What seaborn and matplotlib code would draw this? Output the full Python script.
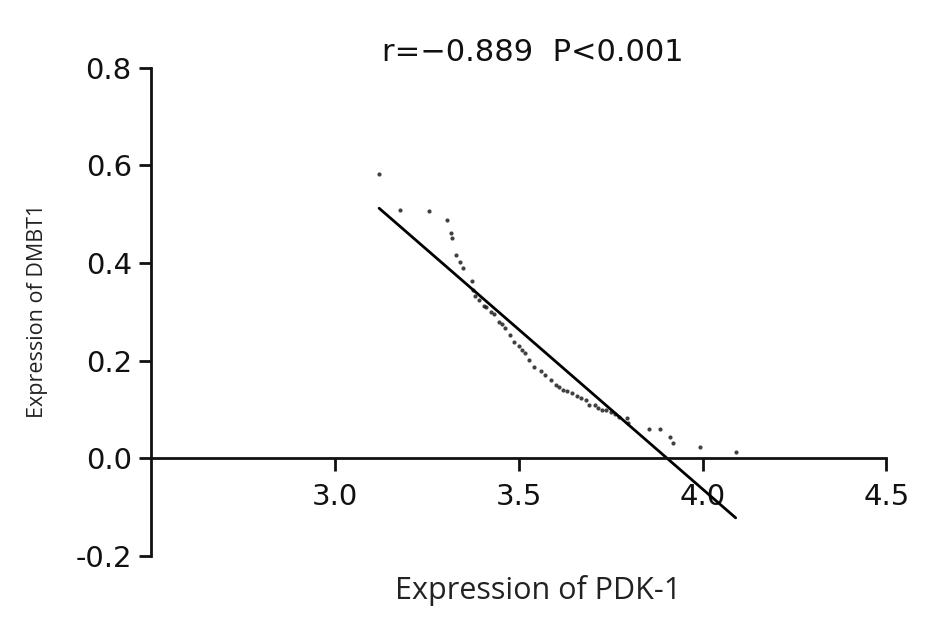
import numpy as np
import pandas as pd
import matplotlib
matplotlib.use("Agg")
import matplotlib.pyplot as plt
import seaborn as sns

sns.set_style("ticks")
plt.rcParams['font.family'] = ['DejaVu Sans']

# values
pdk1 = [3.120, 3.178, 3.257, 3.306, 3.315, 3.318, 3.328, 3.340, 3.348, 3.372,
        3.376, 3.382, 3.392, 3.404, 3.412, 3.425, 3.433, 3.445, 3.453, 3.463,
        3.477, 3.486, 3.500, 3.509, 3.518, 3.527, 3.541, 3.560, 3.571, 3.587,
        3.601, 3.610, 3.619, 3.632, 3.646, 3.657, 3.670, 3.683, 3.692, 3.706,
        3.715, 3.725, 3.738, 3.750, 3.761, 3.772, 3.793, 3.797, 3.855, 3.883,
        3.912, 3.920, 3.993, 4.090]
dmbt1 = [0.582, 0.509, 0.506, 0.488, 0.461, 0.452, 0.417, 0.402, 0.390, 0.364,
         0.344, 0.332, 0.324, 0.311, 0.310, 0.300, 0.296, 0.280, 0.275, 0.266,
         0.253, 0.239, 0.229, 0.221, 0.215, 0.201, 0.188, 0.178, 0.170, 0.160,
         0.150, 0.147, 0.140, 0.137, 0.133, 0.128, 0.123, 0.119, 0.109, 0.109,
         0.102, 0.098, 0.099, 0.094, 0.090, 0.085, 0.082, 0.072, 0.061, 0.060,
         0.044, 0.032, 0.024, 0.012]
x_ticks = [3.0, 3.5, 4.0, 4.5]
y_ticks = [-0.2, 0.0, 0.2, 0.4, 0.6, 0.8]
stat_text = "r=\u22120.889  P<0.001"

df = pd.DataFrame({"PDK1": pdk1, "DMBT1": dmbt1})

fig = plt.figure(figsize=(9.45, 6.39), dpi=100)
ax = fig.add_axes([0.160, 0.130, 0.778, 0.764])

sns.regplot(data=df, x="PDK1", y="DMBT1", ax=ax, ci=None, truncate=True,
            scatter_kws={"s": 9, "color": "#111111", "linewidths": 0},
            line_kws={"color": "black", "lw": 2.0})

ax.spines['bottom'].set_position(('data', 0))
ax.spines['top'].set_visible(False)
ax.spines['right'].set_visible(False)
for s in ['left', 'bottom']:
    ax.spines[s].set_linewidth(2.0)
    ax.spines[s].set_color('#111111')

ax.set_xlim(2.5, 4.5)
ax.set_ylim(-0.2, 0.8)
ax.set_xticks(x_ticks)
ax.set_yticks(y_ticks)
ax.set_xticklabels([f"{v:.1f}" for v in x_ticks])
ax.set_yticklabels([f"{v:.1f}" for v in y_ticks])
ax.tick_params(axis='x', direction='out', length=9, width=2.0, pad=9,
               colors='#111111', labelsize=21)
ax.tick_params(axis='y', direction='out', length=9, width=2.0, pad=5,
               colors='#111111', labelsize=21)

ax.set_xlabel("")
ax.set_ylabel("")
fig.text(0.569, 0.076, "Expression of PDK-1", ha='center', va='center',
         fontsize=22, family=['Open Sans', 'DejaVu Sans'], color='#222222')
fig.text(0.040, 0.514, "Expression of DMBT1", ha='center', va='center',
         rotation=90, fontsize=15.5, family=['Open Sans', 'DejaVu Sans'], color='#222222')
fig.text(0.564, 0.918, stat_text, ha='center', va='center', fontsize=22, color='#111111')

fig.savefig("out.png", dpi=100, facecolor='white')
